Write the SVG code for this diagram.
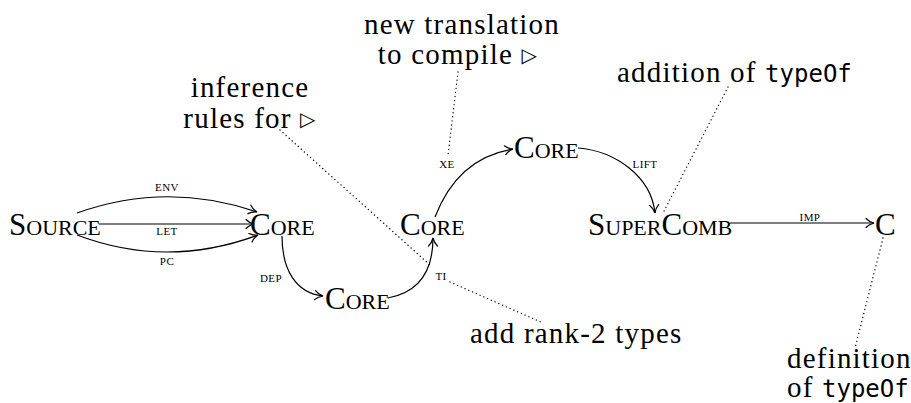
<svg xmlns="http://www.w3.org/2000/svg" width="911" height="403" viewBox="0 0 911 403">
  <style>
    .node { font-family: "Liberation Serif", "DejaVu Serif", serif; font-size: 31px; font-variant: small-caps; fill: #000; }
    .elab { font-family: "Liberation Serif", "DejaVu Serif", serif; font-size: 11px; letter-spacing: 0.4px; fill: #000; text-anchor: middle; }
    .note { font-family: "Liberation Serif", serif; font-size: 29px; letter-spacing: 1.2px; fill: #000; }
    .mid { text-anchor: middle; }
    .tt { font-family: "DejaVu Sans Mono", "Liberation Mono", monospace; font-size: 24px; letter-spacing: 0; }
    .tri { font-family: "DejaVu Sans", sans-serif; font-size: 20px; }
    .edge { fill: none; stroke: #000; stroke-width: 1.2; marker-end: url(#to); }
    .dots { fill: none; stroke: #000; stroke-width: 1.3; stroke-linecap: round; stroke-dasharray: 0.1 4; }
  </style>
  <defs>
    <marker id="to" markerUnits="userSpaceOnUse" markerWidth="14" markerHeight="12" viewBox="-9 -6 10 12" refX="0" refY="0" orient="auto">
      <path d="M -8 -4.5 C -5.5 -1.8 -2.5 -0.6 0 0 C -2.5 0.6 -5.5 1.8 -8 4.5" fill="none" stroke="#000" stroke-width="1.2" stroke-linecap="round"/>
    </marker>
  </defs>

  <!-- transformation edges -->
  <g id="connectors">
    <path class="edge" d="M 77 213 Q 167 181 257 212"/>
    <path class="edge" d="M 99 224 L 254 224"/>
    <path class="edge" d="M 77 235 Q 167 269 258 235"/>
    <path class="edge" d="M 282 236 C 282 270 296 293 323 296"/>
    <path class="edge" d="M 388 298 C 420 292 433 270 433 238"/>
    <path class="edge" d="M 435 217 C 450 178 475 155 513 149"/>
    <path class="edge" d="M 578 148 C 615 151 651 176 655 213"/>
    <path class="edge" d="M 730 223 L 874 223"/>

    <text class="elab" x="167" y="191">ENV</text>
    <text class="elab" x="167" y="235">LET</text>
    <text class="elab" x="167" y="265">PC</text>
    <text class="elab" x="271" y="282">DEP</text>
    <text class="elab" x="441" y="280">TI</text>
    <text class="elab" x="447" y="168">XE</text>
    <text class="elab" x="645" y="168">LIFT</text>
    <text class="elab" x="810" y="221">IMP</text>

    <!-- dotted annotation leaders -->
    <path class="dots" d="M 458 72 L 448 155"/>
    <path class="dots" d="M 280 130 L 430 265"/>
    <path class="dots" d="M 450 282 L 543 323"/>
    <path class="dots" d="M 728 87 L 663 213"/>
    <path class="dots" d="M 883 238 L 855 348"/>
  </g>

  <!-- language nodes -->
  <g id="source"><text class="node" x="9" y="235">Source</text></g>
  <g id="core1"><text class="node" x="250" y="235">Core</text></g>
  <g id="core2"><text class="node" x="325" y="309">Core</text></g>
  <g id="core3"><text class="node" x="400" y="235">Core</text></g>
  <g id="core4"><text class="node" x="514" y="158">Core</text></g>
  <g id="supercomb"><text class="node" x="588" y="235">SuperComb</text></g>
  <g id="c"><text class="node" x="875" y="235">C</text></g>

  <!-- annotations -->
  <g id="note-translation">
    <text class="note mid" x="462" y="34">new translation</text>
    <text class="note mid" x="458" y="64">to compile <tspan class="tri" dy="-2">▷</tspan></text>
  </g>
  <g id="note-inference">
    <text class="note mid" x="250" y="97">inference</text>
    <text class="note mid" x="250" y="128">rules for <tspan class="tri" dy="-2">▷</tspan></text>
  </g>
  <g id="note-rank2">
    <text class="note" x="470" y="343">add rank-2 types</text>
  </g>
  <g id="note-addition">
    <text class="note" x="617" y="82">addition of <tspan class="tt">typeOf</tspan></text>
  </g>
  <g id="note-definition">
    <text class="note" x="787" y="368">definition</text>
    <text class="note" x="787" y="397">of <tspan class="tt">typeOf</tspan></text>
  </g>
</svg>
